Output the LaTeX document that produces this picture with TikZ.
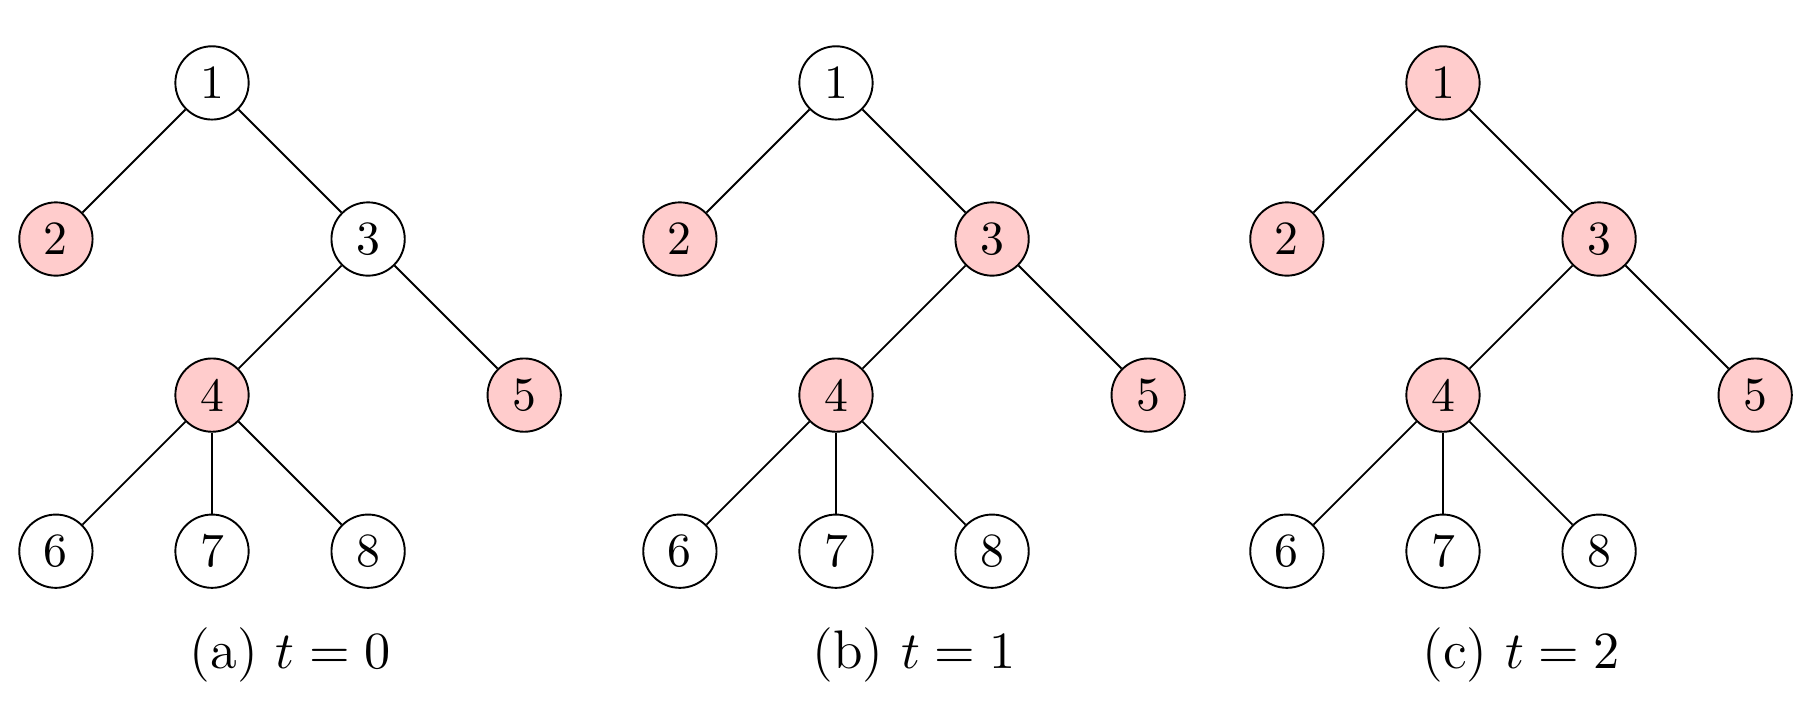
\documentclass[tikz,border=0pt]{standalone}
\usepackage{amsmath,amssymb}
\usepackage{tikz}
\usetikzlibrary{positioning}
\definecolor{cHit}{RGB}{255,204,204}

\begin{document}
\begin{tikzpicture}[node distance=1.15cm and 1.15cm, on grid,
    vertex/.style={circle, draw, minimum size=0.54cm, inner sep=0pt},
    hit/.style={vertex, fill=cHit},
    subcap/.style={anchor=base, font=\fontsize{11.4}{13.6}\selectfont}]
    \useasboundingbox (-1.562,0.611) rectangle (11.817,-4.752);

    % (a) t = 0
    \node[vertex] (a1) at (0,0) {1};
    \node[hit] (a2) [below left=of a1] {2};
    \node[vertex] (a3) [below right=of a1] {3};
    \node[hit] (a4) [below left=of a3] {4};
    \node[hit] (a5) [below right=of a3] {5};
    \node[vertex] (a6) [below left=of a4] {6};
    \node[vertex] (a7) [below=of a4] {7};
    \node[vertex] (a8) [below right=of a4] {8};
    \path
    (a1) edge (a2) edge (a3)
    (a3) edge (a4) edge (a5)
    (a4) edge (a6) edge (a7) edge (a8);
    \node[subcap] (capa) at ([xshift=0.575cm, yshift=-0.862cm]a7) {(a) $t = 0$};

    % (b) t = 1
    \node[vertex] (b1) at (4.597,0) {1};
    \node[hit] (b2) [below left=of b1] {2};
    \node[hit] (b3) [below right=of b1] {3};
    \node[hit] (b4) [below left=of b3] {4};
    \node[hit] (b5) [below right=of b3] {5};
    \node[vertex] (b6) [below left=of b4] {6};
    \node[vertex] (b7) [below=of b4] {7};
    \node[vertex] (b8) [below right=of b4] {8};
    \path
    (b1) edge (b2) edge (b3)
    (b3) edge (b4) edge (b5)
    (b4) edge (b6) edge (b7) edge (b8);
    \node[subcap] (capb) at ([xshift=0.575cm, yshift=-0.862cm]b7) {(b) $t = 1$};

    % (c) t = 2
    \node[hit] (c1) at (9.069,0) {1};
    \node[hit] (c2) [below left=of c1] {2};
    \node[hit] (c3) [below right=of c1] {3};
    \node[hit] (c4) [below left=of c3] {4};
    \node[hit] (c5) [below right=of c3] {5};
    \node[vertex] (c6) [below left=of c4] {6};
    \node[vertex] (c7) [below=of c4] {7};
    \node[vertex] (c8) [below right=of c4] {8};
    \path
    (c1) edge (c2) edge (c3)
    (c3) edge (c4) edge (c5)
    (c4) edge (c6) edge (c7) edge (c8);
    \node[subcap] (capc) at ([xshift=0.575cm, yshift=-0.862cm]c7) {(c) $t = 2$};
\end{tikzpicture}
\end{document}
